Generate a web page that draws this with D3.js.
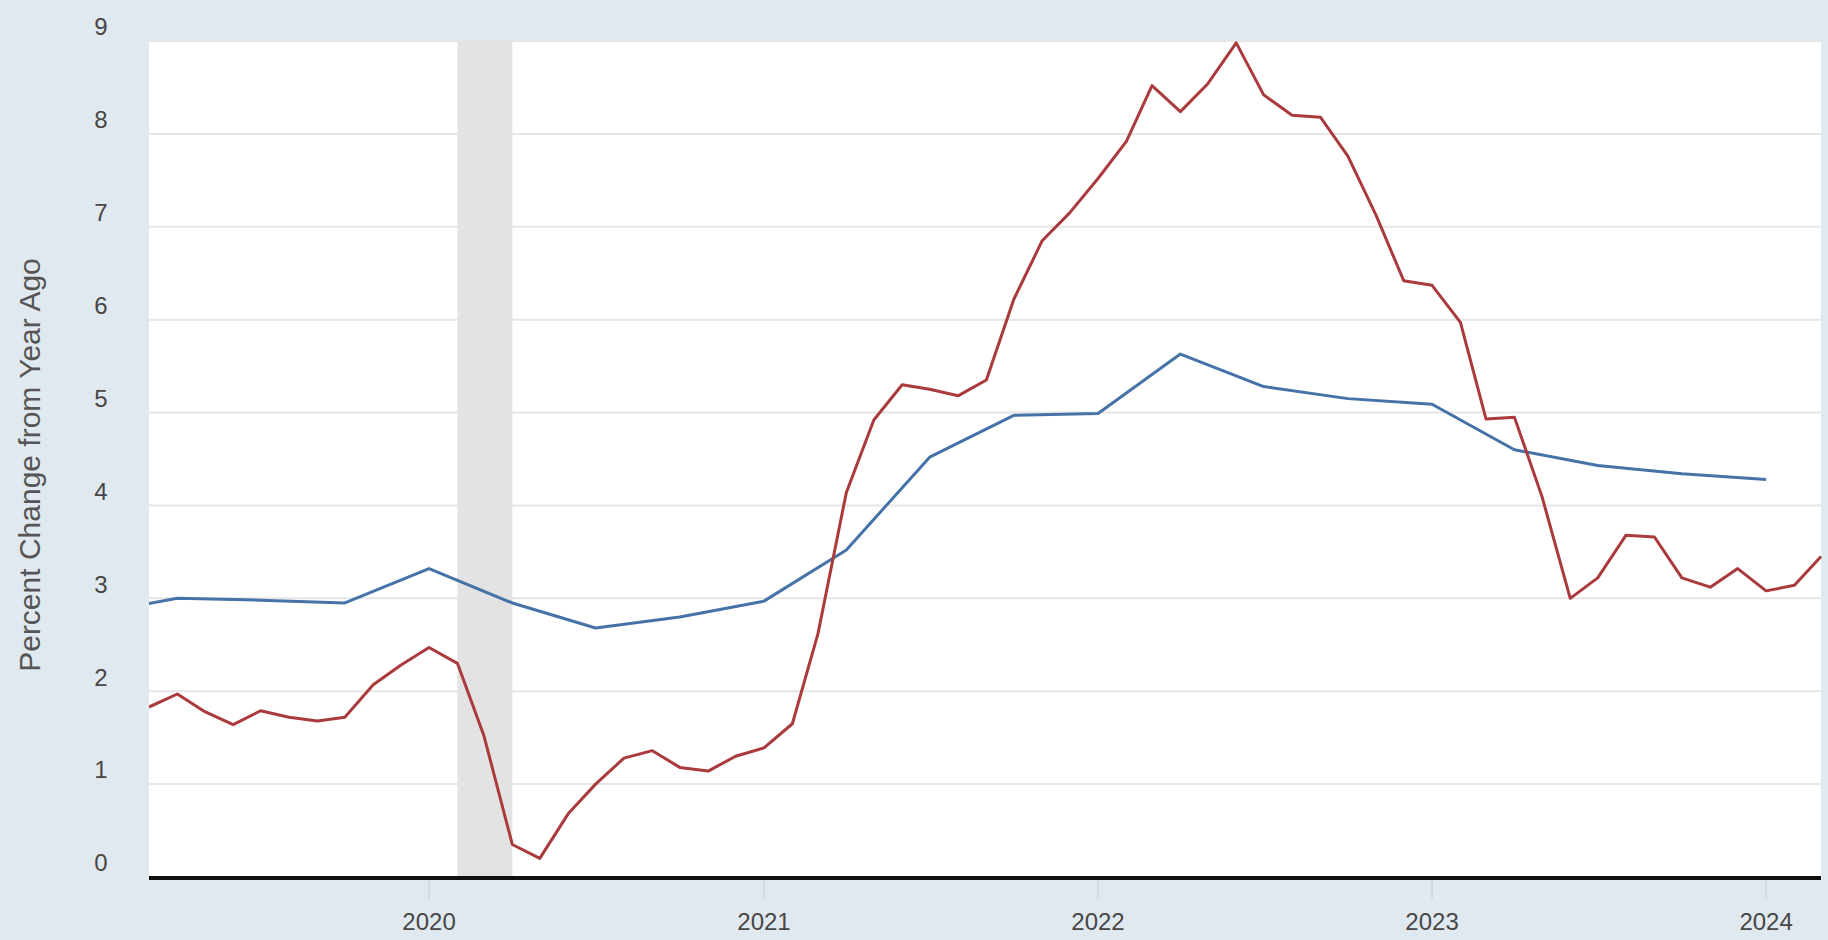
<!DOCTYPE html>
<html>
<head>
<meta charset="utf-8">
<script src="https://cdn.jsdelivr.net/npm/d3@7"></script>
<style>
  html, body { margin: 0; padding: 0; background: #e1e9f0; }
  svg { display: block; }
  text { font-family: "Liberation Sans", Arial, Helvetica, sans-serif; }
</style>
</head>
<body>
<svg id="chart" width="1828" height="940"></svg>
<script>
// ---- Data ----
const redDates = [
  "2019-03","2019-04","2019-05","2019-06","2019-07","2019-08","2019-09","2019-10","2019-11","2019-12",
  "2020-01","2020-02","2020-03","2020-04","2020-05","2020-06","2020-07","2020-08","2020-09","2020-10","2020-11","2020-12",
  "2021-01","2021-02","2021-03","2021-04","2021-05","2021-06","2021-07","2021-08","2021-09","2021-10","2021-11","2021-12",
  "2022-01","2022-02","2022-03","2022-04","2022-05","2022-06","2022-07","2022-08","2022-09","2022-10","2022-11","2022-12",
  "2023-01","2023-02","2023-03","2023-04","2023-05","2023-06","2023-07","2023-08","2023-09","2023-10","2023-11","2023-12",
  "2024-01","2024-02","2024-03"
];
const redValues = [
  1.83,1.97,1.78,1.64,1.79,1.72,1.68,1.72,2.07,2.28,
  2.47,2.30,1.52,0.35,0.20,0.68,1.00,1.28,1.36,1.18,1.14,1.30,
  1.39,1.65,2.62,4.14,4.92,5.30,5.25,5.18,5.35,6.22,6.85,7.15,
  7.52,7.92,8.52,8.24,8.54,8.98,8.42,8.20,8.18,7.76,7.12,6.42,
  6.37,5.97,4.93,4.95,4.10,3.00,3.22,3.68,3.66,3.22,3.12,3.32,
  3.08,3.14,3.45
];
const blueDates = [
  "2019-01","2019-04","2019-07","2019-10",
  "2020-01","2020-04","2020-07","2020-10",
  "2021-01","2021-04","2021-07","2021-10",
  "2022-01","2022-04","2022-07","2022-10",
  "2023-01","2023-04","2023-07","2023-10",
  "2024-01"
];
const blueValues = [
  2.84,3.00,2.98,2.95,
  3.32,2.95,2.68,2.80,
  2.97,3.52,4.52,4.97,
  4.99,5.63,5.28,5.15,
  5.09,4.60,4.43,4.34,
  4.28
];
const yTicks = [0,1,2,3,4,5,6,7,8,9];
const xTickLabels = ["2020","2021","2022","2023","2024"];
const recession = ["2020-02","2020-04"];
const yTitle = "Percent Change from Year Ago";

// ---- Layout ----
const parse = d3.timeParse("%Y-%m");
const svg = d3.select("#chart");
const pL = 149, pR = 1821, pT = 41, pB = 877;

const x = d3.scaleTime()
  .domain([parse("2019-03"), parse("2024-03")])
  .range([pL, pR]);
const y = d3.scaleLinear().domain([0, 9]).range([pB, pT]);

// plot background
svg.append("rect")
  .attr("x", pL).attr("y", pT)
  .attr("width", pR - pL).attr("height", pB - pT)
  .attr("fill", "#ffffff");

// gridlines
svg.append("g")
  .selectAll("line")
  .data(yTicks.filter(d => d > 0))
  .join("line")
  .attr("x1", pL).attr("x2", pR)
  .attr("y1", d => y(d)).attr("y2", d => y(d))
  .attr("stroke", "#e6e6e6")
  .attr("stroke-width", 2);

// recession shading
svg.append("rect")
  .attr("x", x(parse(recession[0])))
  .attr("y", pT)
  .attr("width", x(parse(recession[1])) - x(parse(recession[0])))
  .attr("height", pB - pT)
  .attr("fill", "#e3e3e3");

// y tick labels
svg.append("g")
  .selectAll("text")
  .data(yTicks)
  .join("text")
  .attr("x", 101)
  .attr("y", d => y(d) - 12)
  .attr("text-anchor", "middle")
  .attr("dominant-baseline", "middle")
  .attr("font-size", 24)
  .attr("fill", "#464646")
  .text(d => d);

// y title
svg.append("text")
  .attr("transform", `translate(32, ${(pT + pB) / 2 + 6}) rotate(-90)`)
  .attr("text-anchor", "middle")
  .attr("dominant-baseline", "middle")
  .attr("font-size", 30)
  .attr("fill", "#555555")
  .text(yTitle);

// x axis ticks and labels
const xTickDates = xTickLabels.map(s => d3.timeParse("%Y")(s));
const xg = svg.append("g");
xg.selectAll("line")
  .data(xTickDates)
  .join("line")
  .attr("x1", d => x(d)).attr("x2", d => x(d))
  .attr("y1", pB).attr("y2", pB + 22)
  .attr("stroke", "#cfd6dc")
  .attr("stroke-width", 1.5);
xg.selectAll("text")
  .data(xTickDates)
  .join("text")
  .attr("x", d => x(d))
  .attr("y", 924)
  .attr("text-anchor", "middle")
  .attr("dominant-baseline", "middle")
  .attr("font-size", 24)
  .attr("fill", "#464646")
  .text((d, i) => xTickLabels[i]);

// clip
svg.append("clipPath").attr("id", "plotclip")
  .append("rect")
  .attr("x", pL).attr("y", pT - 10)
  .attr("width", pR - pL + 4).attr("height", pB - pT + 10);

const line = d3.line()
  .x(d => x(d[0]))
  .y(d => y(d[1]));

const blueData = blueDates.map((d, i) => [parse(d), blueValues[i]]);
const redData = redDates.map((d, i) => [parse(d), redValues[i]]);

svg.append("path")
  .datum(blueData)
  .attr("clip-path", "url(#plotclip)")
  .attr("fill", "none")
  .attr("stroke", "#4572a7")
  .attr("stroke-width", 3)
  .attr("stroke-linejoin", "round")
  .attr("d", line);

svg.append("path")
  .datum(redData)
  .attr("clip-path", "url(#plotclip)")
  .attr("fill", "none")
  .attr("stroke", "#aa3a3c")
  .attr("stroke-width", 3)
  .attr("stroke-linejoin", "round")
  .attr("d", line);

// x axis baseline
svg.append("line")
  .attr("x1", pL).attr("x2", pR)
  .attr("y1", pB + 1).attr("y2", pB + 1)
  .attr("stroke", "#111111")
  .attr("stroke-width", 4);
</script>
</body>
</html>
